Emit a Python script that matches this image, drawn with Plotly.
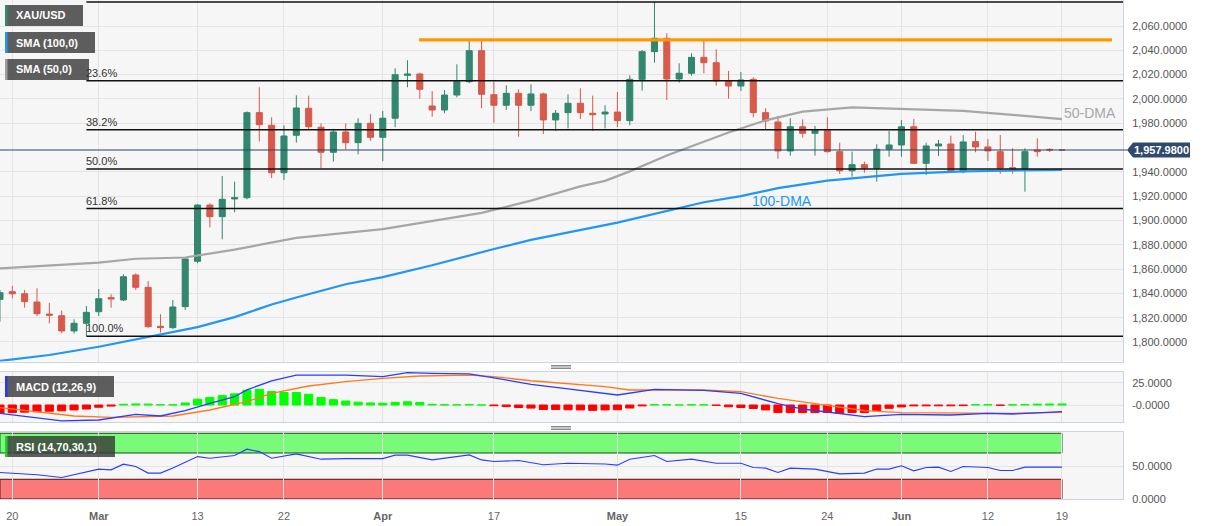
import plotly.graph_objects as go

# ---------------- data ----------------
dates = ["2023-02-17", "2023-02-20", "2023-02-21", "2023-02-22", "2023-02-23", "2023-02-24", "2023-02-27", "2023-02-28",
         "2023-03-01", "2023-03-02", "2023-03-03", "2023-03-06", "2023-03-07", "2023-03-08", "2023-03-09", "2023-03-10",
         "2023-03-13", "2023-03-14", "2023-03-15", "2023-03-16", "2023-03-17", "2023-03-20", "2023-03-21", "2023-03-22",
         "2023-03-23", "2023-03-24", "2023-03-27", "2023-03-28", "2023-03-29", "2023-03-30", "2023-03-31",
         "2023-04-03", "2023-04-04", "2023-04-05", "2023-04-06", "2023-04-10", "2023-04-11", "2023-04-12", "2023-04-13",
         "2023-04-14", "2023-04-17", "2023-04-18", "2023-04-19", "2023-04-20", "2023-04-21", "2023-04-24", "2023-04-25",
         "2023-04-26", "2023-04-27", "2023-04-28",
         "2023-05-01", "2023-05-02", "2023-05-03", "2023-05-04", "2023-05-05", "2023-05-08", "2023-05-09", "2023-05-10",
         "2023-05-11", "2023-05-12", "2023-05-15", "2023-05-16", "2023-05-17", "2023-05-18", "2023-05-19", "2023-05-22",
         "2023-05-23", "2023-05-24", "2023-05-25", "2023-05-26", "2023-05-29", "2023-05-30", "2023-05-31",
         "2023-06-01", "2023-06-02", "2023-06-05", "2023-06-06", "2023-06-07", "2023-06-08", "2023-06-09", "2023-06-12",
         "2023-06-13", "2023-06-14", "2023-06-15", "2023-06-16", "2023-06-18", "2023-06-19"]

opens = [1835.1, 1841.4, 1839.7, 1832.9, 1823.0, 1821.6, 1809.1, 1815.4, 1824.9, 1836.5,
         1834.6, 1855.1, 1845.0, 1812.9, 1811.8, 1829.1, 1866.4, 1912.7, 1903.1, 1917.7,
         1918.7, 1988.7, 1978.3, 1939.3, 1970.1, 1992.3, 1976.7, 1956.1, 1972.8, 1964.0,
         1979.9, 1968.4, 1984.1, 2019.4, 2020.5, 1994.2, 1990.9, 2003.2, 2014.2, 2039.7,
         2003.5, 1994.8, 2004.6, 1994.8, 2004.1, 1982.7, 1988.7, 1996.4, 1988.2, 1987.6,
         1989.2, 1982.1, 2016.1, 2038.9, 2049.9, 2016.4, 2021.1, 2034.2, 2029.8, 2014.8,
         2010.6, 2016.1, 1988.7, 1981.0, 1957.2, 1977.1, 1971.7, 1973.9, 1956.6, 1940.9,
         1945.9, 1942.9, 1958.6, 1962.1, 1977.1, 1947.0, 1961.3, 1962.9, 1940.1, 1964.8,
         1960.5, 1956.6, 1943.4, 1942.6, 1958.0, 1958.5, 1957.98]
highs = [1842.8, 1846.1, 1842.8, 1844.2, 1832.3, 1825.8, 1818.7, 1829.6, 1843.6, 1839.3,
         1855.7, 1856.5, 1850.2, 1822.8, 1834.6, 1868.9, 1913.3, 1914.1, 1936.6, 1931.9,
         1989.7, 2009.6, 1984.9, 1978.3, 2003.0, 2002.7, 1979.9, 1975.3, 1979.9, 1984.1,
         1987.4, 1990.1, 2025.2, 2031.8, 2021.6, 2006.5, 2007.3, 2028.5, 2047.7, 2047.7,
         2014.2, 2011.2, 2007.9, 2012.0, 2005.1, 1990.9, 2003.8, 2008.7, 2002.7, 1994.8,
         2005.7, 2019.4, 2040.3, 2079.8, 2054.0, 2029.3, 2037.5, 2047.7, 2040.8, 2023.0,
         2022.2, 2017.8, 1992.3, 1986.0, 1984.1, 1983.2, 1977.7, 1984.9, 1964.0, 1956.6,
         1948.4, 1962.7, 1973.6, 1982.7, 1983.5, 1964.0, 1966.2, 1969.7, 1970.3, 1973.0,
         1967.0, 1970.3, 1959.4, 1959.4, 1967.6, 1959.3, 1957.98]
lows = [1816.7, 1836.0, 1828.2, 1821.4, 1815.4, 1807.2, 1807.0, 1804.8, 1821.4, 1828.2,
        1833.7, 1842.8, 1811.8, 1807.7, 1810.7, 1826.3, 1864.8, 1894.4, 1884.5, 1906.7,
        1917.4, 1965.1, 1934.9, 1933.3, 1964.0, 1974.4, 1942.9, 1948.4, 1958.8, 1954.4,
        1965.6, 1948.7, 1976.7, 2009.6, 2000.2, 1985.4, 1988.2, 2001.3, 2012.9, 1992.3,
        1980.4, 1990.9, 1968.9, 1990.1, 1971.1, 1973.6, 1975.8, 1983.5, 1973.6, 1975.8,
        1976.7, 1978.3, 2006.8, 2029.8, 1999.1, 2013.4, 2019.1, 2021.1, 2010.9, 2000.2,
        2006.5, 1984.9, 1975.0, 1950.8, 1953.3, 1968.1, 1953.3, 1955.9, 1938.2, 1936.0,
        1939.3, 1931.9, 1952.5, 1952.5, 1946.5, 1937.4, 1953.0, 1939.5, 1938.8, 1956.1,
        1948.9, 1938.5, 1938.5, 1923.7, 1952.5, 1956.3, 1957.98]
closes = [1840.6, 1839.7, 1833.2, 1823.3, 1822.0, 1809.1, 1815.4, 1824.4, 1835.6, 1835.4,
          1853.7, 1845.0, 1812.6, 1811.8, 1828.8, 1868.3, 1912.7, 1903.1, 1917.4, 1918.7,
          1988.7, 1978.8, 1939.3, 1969.5, 1992.5, 1977.1, 1956.1, 1972.8, 1964.0, 1979.9,
          1968.4, 1984.1, 2019.9, 2020.5, 2007.9, 1990.9, 2003.2, 2014.2, 2039.7, 2003.8,
          1994.8, 2004.6, 1994.8, 2004.1, 1982.7, 1988.2, 1996.4, 1988.7, 1987.0, 1989.2,
          1982.1, 2016.1, 2038.9, 2049.9, 2016.4, 2021.1, 2034.2, 2029.8, 2014.8, 2010.6,
          2015.6, 1988.7, 1981.8, 1957.2, 1977.1, 1971.7, 1973.9, 1956.6, 1940.9, 1945.9,
          1942.9, 1958.6, 1962.1, 1977.1, 1947.0, 1961.3, 1962.9, 1940.1, 1964.6, 1960.5,
          1957.2, 1942.9, 1942.6, 1956.6, 1956.6, 1957.98, 1957.98]

sma50_dates = ["2023-02-17", "2023-02-23", "2023-03-01", "2023-03-06", "2023-03-10", "2023-03-16", "2023-03-23",
               "2023-04-03", "2023-04-10", "2023-04-14", "2023-04-20", "2023-04-26", "2023-04-28", "2023-05-02",
               "2023-05-05", "2023-05-10", "2023-05-12", "2023-05-17", "2023-05-22", "2023-05-26", "2023-06-01",
               "2023-06-08", "2023-06-14", "2023-06-19"]
sma50_values = [1860.6, 1863.2, 1865.3, 1868.5, 1869.5, 1876.0, 1885.7, 1892.8, 1899.2, 1906.2, 1916.3, 1928.0,
                1932.6, 1940.4, 1953.5, 1964.8, 1972.4, 1982.4, 1989.5, 1993.1, 1991.7, 1990.1, 1986.9, 1983.3]

sma100_dates = ["2023-02-17", "2023-02-23", "2023-03-01", "2023-03-07", "2023-03-13", "2023-03-16", "2023-03-21",
                "2023-03-23", "2023-03-29", "2023-04-03", "2023-04-10", "2023-04-17", "2023-04-20", "2023-05-01",
                "2023-05-10", "2023-05-15", "2023-05-18", "2023-05-24", "2023-06-01", "2023-06-08", "2023-06-19"]
sma100_values = [1784.4, 1789.3, 1796.1, 1804.2, 1812.2, 1820.5, 1830.8, 1836.6, 1847.5, 1853.4, 1863.1, 1876.5,
                 1884.0, 1898.2, 1915.0, 1920.0, 1926.6, 1932.8, 1938.3, 1940.4, 1941.7]

macd_dates = ["2023-02-17", "2023-02-22", "2023-02-24", "2023-03-01", "2023-03-06", "2023-03-08", "2023-03-10",
              "2023-03-14", "2023-03-16", "2023-03-17", "2023-03-20", "2023-03-21", "2023-03-23", "2023-03-29",
              "2023-04-03", "2023-04-05", "2023-04-10", "2023-04-13", "2023-04-17", "2023-04-20", "2023-04-25",
              "2023-04-28", "2023-05-01", "2023-05-04", "2023-05-10", "2023-05-15", "2023-05-18", "2023-05-22",
              "2023-05-24", "2023-05-29", "2023-06-01", "2023-06-07", "2023-06-12", "2023-06-14", "2023-06-19"]
macd_values = [-9.3, -14.5, -17.9, -16.8, -10.4, -12.3, -6.4, 1.9, 9.3, 17.0, 22.0, 27.0, 33.6, 33.6, 31.7, 36.2,
               35.5, 34.8, 30.5, 23.0, 18.0, 13.0, 11.2, 17.6, 16.5, 13.0, 1.5, -4.5, -8.0, -13.1, -10.4, -11.2,
               -9.3, -10.1, -7.5]

signal_dates = ["2023-02-17", "2023-02-22", "2023-02-27", "2023-03-02", "2023-03-09", "2023-03-14", "2023-03-17",
                "2023-03-21", "2023-03-24", "2023-03-29", "2023-04-03", "2023-04-06", "2023-04-13", "2023-04-17",
                "2023-04-20", "2023-04-28", "2023-05-02", "2023-05-10", "2023-05-15", "2023-05-18", "2023-05-24",
                "2023-05-29", "2023-06-01", "2023-06-08", "2023-06-14", "2023-06-19"]
signal_values = [-3.0, -8.0, -12.3, -13.8, -12.3, -5.6, 3.7, 13.1, 21.3, 26.1, 29.9, 32.5, 33.6, 31.7, 27.2, 20.5,
                 16.8, 16.8, 14.9, 7.5, 0.0, -6.4, -8.6, -9.3, -9.3, -8.2]

hist_values = [-9.0, -8.5, -8.0, -7.5, -7.0, -6.5, -5.5, -4.5, -2.5, -1.2,
               0.8, 1.2, 1.0, 0.4, 0.3, 2.3, 6.5, 8.5, 10.5, 12.5,
               16.5, 17.5, 15.0, 14.0, 14.0, 12.0, 8.5, 6.0, 4.5, 3.2,
               2.3, 2.0, 3.0, 3.6, 2.8, 0.8, 0.3, 0.2, 0.6, 0.1,
               -0.8, -1.8, -2.8, -3.5, -5.0, -5.0, -5.3, -5.5, -6.0, -5.5,
               -5.3, -3.4, -1.0, 0.6, 0.4, 0.1, 0.4, 0.3, -0.4, -2.0,
               -2.8, -3.9, -5.5, -8.5, -8.5, -8.5, -8.5, -8.5, -9.3, -8.5,
               -8.5, -6.3, -3.7, -2.2, -1.0, -0.9, -0.9, -0.9, -0.7, 0.4,
               0.4, -0.4, 0.3, 0.6, 1.0, 1.1, 1.2]

rsi_dates = ["2023-02-17", "2023-02-22", "2023-02-24", "2023-03-01", "2023-03-02", "2023-03-03", "2023-03-06",
             "2023-03-07", "2023-03-08", "2023-03-09", "2023-03-13", "2023-03-14", "2023-03-16", "2023-03-17",
             "2023-03-20", "2023-03-21", "2023-03-23", "2023-03-27", "2023-03-29", "2023-03-31", "2023-04-03",
             "2023-04-04", "2023-04-05", "2023-04-10", "2023-04-13", "2023-04-14", "2023-04-17", "2023-04-19",
             "2023-04-21", "2023-04-25", "2023-04-28", "2023-05-01", "2023-05-02", "2023-05-04", "2023-05-05",
             "2023-05-09", "2023-05-11", "2023-05-15", "2023-05-16", "2023-05-17", "2023-05-18", "2023-05-19",
             "2023-05-23", "2023-05-25", "2023-05-29", "2023-05-30", "2023-05-31", "2023-06-01", "2023-06-02",
             "2023-06-05", "2023-06-06", "2023-06-07", "2023-06-08", "2023-06-12", "2023-06-13", "2023-06-14",
             "2023-06-15", "2023-06-19"]
rsi_values = [40.3, 36.8, 32.7, 45.5, 44.4, 53.0, 49.4, 39.4, 39.4, 47.0, 64.5, 62.1, 66.1, 75.8, 72.1, 62.1,
              68.6, 60.6, 61.5, 62.1, 61.5, 66.7, 66.7, 59.5, 67.1, 59.5, 57.0, 58.5, 52.0, 54.5, 53.2, 51.5,
              60.6, 66.1, 57.0, 60.6, 54.5, 54.5, 47.9, 47.0, 40.3, 47.0, 45.5, 38.3, 39.4, 45.5, 45.5, 50.5,
              42.9, 47.9, 48.5, 41.8, 49.4, 47.9, 43.3, 43.3, 48.5, 48.5]

fib_high = 2079.76
fib_low = 1804.76
fib_ratios = [0.0, 0.236, 0.382, 0.5, 0.618, 1.0]
fib_labels = ["", "23.6%", "38.2%", "50.0%", "61.8%", "100.0%"]
fib_start_date = "2023-02-28"

resistance_level = 2048.5
resistance_start_date = "2023-04-06"
last_price = 1957.98

tick_dates = ["2023-02-20", "2023-03-01", "2023-03-13", "2023-03-22", "2023-04-03", "2023-04-17",
              "2023-05-01", "2023-05-15", "2023-05-24", "2023-06-01", "2023-06-12", "2023-06-19"]
tick_labels = ["20", "Mar", "13", "22", "Apr", "17", "May", "15", "24", "Jun", "12", "19"]
price_ticks = [v for v in range(1800, 2061, 20) if v != 1960]

badges = [("XAU/USD", "#2e8b6e"), ("SMA (100,0)", "#2196f3"), ("SMA (50,0)", "#9e9e9e"),
          ("MACD (12,26,9)", "#2538ff"), ("RSI (14,70,30,1)", "#22cc33")]

# ---------------- layout helpers ----------------
W, H = 1207, 526
ML, MR, MT, MB = 0, 84, 0, 27
PW, PH = W - ML - MR, H - MT - MB


def pxp(x):
    return (x - ML) / PW


def pyp(y):
    return 1 - (y - MT) / PH


idx = {d: k for k, d in enumerate(dates)}
xi = list(range(len(dates)))
X_RANGE = [0.004, 90.94]
FONT = "Liberation Sans, Arial, sans-serif"

fig = go.Figure()

# main panel
fig.add_trace(go.Scatter(x=[idx[d] for d in sma50_dates], y=sma50_values, mode="lines",
                         line=dict(color="#a6a6a6", width=2.2), xaxis="x", yaxis="y", hoverinfo="skip"))
fig.add_trace(go.Scatter(x=[idx[d] for d in sma100_dates], y=sma100_values, mode="lines",
                         line=dict(color="#2196f3", width=2.2), xaxis="x", yaxis="y", hoverinfo="skip"))
fig.add_trace(go.Candlestick(x=xi, open=opens, high=highs, low=lows, close=closes,
                             increasing=dict(line=dict(color="#2f876d", width=1), fillcolor="#33876f"),
                             decreasing=dict(line=dict(color="#d5584a", width=1), fillcolor="#d85a4a"),
                             whiskerwidth=0, xaxis="x", yaxis="y", hoverinfo="skip"))

# MACD panel
hist_colors = ["#00ff00" if v >= 0 else "#ff0000" for v in hist_values]
fig.add_trace(go.Bar(x=xi, y=hist_values, marker=dict(color=hist_colors, line=dict(width=1, color=hist_colors)),
                     xaxis="x2", yaxis="y2", hoverinfo="skip"))
fig.add_trace(go.Scatter(x=[idx[d] for d in signal_dates], y=signal_values, mode="lines",
                         line=dict(color="#ff7a1f", width=1.3), xaxis="x2", yaxis="y2", hoverinfo="skip"))
fig.add_trace(go.Scatter(x=[idx[d] for d in macd_dates], y=macd_values, mode="lines",
                         line=dict(color="#2b3cff", width=1.3), xaxis="x2", yaxis="y2", hoverinfo="skip"))

# RSI panel
fig.add_trace(go.Scatter(x=[idx[d] for d in rsi_dates], y=rsi_values, mode="lines",
                         line=dict(color="#2b3cff", width=1.1), xaxis="x3", yaxis="y3", hoverinfo="skip"))

tickvals = [idx[d] for d in tick_dates]
ticktext = [f"<b>{t}</b>" if t.isalpha() else t for t in tick_labels]

grid = "#e4e4e4"
border = "#cdd4e0"
xcommon = dict(range=X_RANGE, tickmode="array", tickvals=tickvals, showgrid=True, gridcolor=grid, gridwidth=1,
               zeroline=False, showline=True, linecolor=border, linewidth=1, mirror=True, fixedrange=True)
ycommon = dict(side="right", showgrid=True, gridcolor=grid, gridwidth=1, zeroline=False, showline=True,
               linecolor=border, linewidth=1, mirror=True, fixedrange=True, tickmode="array",
               ticks="outside", ticklen=6, tickcolor="rgba(0,0,0,0)", tickfont=dict(size=11, color="#555555"))

fig.update_layout(
    width=W, height=H, margin=dict(l=ML, r=MR, t=MT, b=MB),
    paper_bgcolor="white", plot_bgcolor="#f6f6f6", showlegend=False, hovermode=False,
    font=dict(family=FONT, size=11, color="#555555"), bargap=0.34,
    xaxis=dict(domain=[0, 1], anchor="y", showticklabels=False, rangeslider=dict(visible=False), **xcommon),
    xaxis2=dict(domain=[0, 1], anchor="y2", showticklabels=False, **xcommon),
    xaxis3=dict(domain=[0, 1], anchor="y3", ticktext=ticktext, ticks="outside", ticklen=7,
                tickcolor="rgba(0,0,0,0)", tickfont=dict(size=11, color="#666666"), **xcommon),
    yaxis=dict(domain=[pyp(361.5), 1], anchor="x", range=[1783.95, 2081.39], tickvals=price_ticks,
               ticktext=[f"{v:,.4f}" for v in price_ticks], **ycommon),
    yaxis2=dict(domain=[pyp(422.3), pyp(371.7)], anchor="x2", range=[-19.39, 37.33], tickvals=[25, 0],
                ticktext=["25.0000", "-0.0000"], **ycommon),
    yaxis3=dict(domain=[0, pyp(431.7)], anchor="x3", range=[0, 102.4], tickvals=[50, 0],
                ticktext=["50.0000", "0.0000"], **ycommon),
)

shapes = []
annotations = []

# fibonacci levels
fx0 = idx[fib_start_date]
for r, lab in zip(fib_ratios, fib_labels):
    lvl = fib_high - r * (fib_high - fib_low)
    shapes.append(dict(type="line", xref="x", yref="y", x0=fx0, x1=X_RANGE[1], y0=lvl, y1=lvl,
                       line=dict(color="#111111", width=1.5), layer="above"))
    if lab:
        annotations.append(dict(x=fx0, y=lvl, xref="x", yref="y", text=lab, showarrow=False, xanchor="left",
                                yanchor="bottom", xshift=-2, yshift=0, font=dict(size=11, color="#333333")))

# resistance line
shapes.append(dict(type="line", xref="x", yref="y", x0=idx[resistance_start_date] - 0.07, x1=len(dates) + 3.05,
                   y0=resistance_level, y1=resistance_level, line=dict(color="#ff9800", width=3.3), layer="above"))

# last price line and label
shapes.append(dict(type="line", xref="paper", yref="y", x0=0, x1=pxp(1127), y0=last_price, y1=last_price,
                   line=dict(color="#2c4466", width=1), layer="above"))
hh = 6.2
path = (f"M {pxp(1127)},{last_price} L {pxp(1133)},{last_price + hh} L {pxp(1190)},{last_price + hh} "
        f"L {pxp(1190)},{last_price - hh} L {pxp(1133)},{last_price - hh} Z")
shapes.append(dict(type="path", xref="paper", yref="y", path=path, fillcolor="#2f4a6d", line=dict(width=0),
                   layer="above"))
annotations.append(dict(x=pxp(1161.5), y=last_price, xref="paper", yref="y", text=f"<b>{last_price:,.4f}</b>",
                        showarrow=False, xanchor="center", yanchor="middle", font=dict(size=11, color="white")))

# MA labels
annotations.append(dict(x=idx["2023-06-19"], y=1988.4, xref="x", yref="y", text="50-DMA", showarrow=False,
                        xanchor="left", yanchor="middle", font=dict(size=14, color="#a8a8a8")))
annotations.append(dict(x=63.32, y=1916.0, xref="x", yref="y", text="100-DMA", showarrow=False,
                        xanchor="center", yanchor="middle", font=dict(size=14, color="#2196f3")))

# RSI bands
x_end = idx["2023-06-19"]
shapes.append(dict(type="rect", xref="x3", yref="y3", x0=0, x1=x_end, y0=70, y1=100, fillcolor="#79fb79",
                   line=dict(color="#1d4d1d", width=1), layer="below"))
shapes.append(dict(type="rect", xref="x3", yref="y3", x0=0, x1=x_end, y0=0, y1=30, fillcolor="#fb7979",
                   line=dict(color="#4d1010", width=1), layer="below"))

# badges
badge_boxes = [(5, 5, 83, 26), (5, 32, 95, 53), (5, 59, 89, 80), (5, 376, 114, 397), (5, 436, 115, 457)]
for (txt, col), (bx0, by0, bx1, by1) in zip(badges, badge_boxes):
    shapes.append(dict(type="rect", xref="paper", yref="paper", x0=pxp(bx0), x1=pxp(bx1), y0=pyp(by1),
                       y1=pyp(by0), fillcolor="rgba(55,55,55,0.8)", line=dict(width=0), layer="above"))
    shapes.append(dict(type="rect", xref="paper", yref="paper", x0=pxp(bx0), x1=pxp(bx0 + 2.5), y0=pyp(by1),
                       y1=pyp(by0), fillcolor=col, line=dict(width=0), layer="above"))
    annotations.append(dict(x=pxp(14), y=pyp((by0 + by1) / 2), xref="paper", yref="paper", text=f"<b>{txt}</b>",
                            showarrow=False, xanchor="left", yanchor="middle", font=dict(size=11, color="white")))

# panel resize handles
for yb in (365.5, 426.5):
    for k in range(3):
        yy = pyp(yb + 1.5 * k)
        shapes.append(dict(type="line", xref="paper", yref="paper", x0=pxp(551), x1=pxp(571), y0=yy, y1=yy,
                           line=dict(color="#8a8a8a", width=1)))

fig.update_layout(shapes=shapes, annotations=annotations)
fig.write_html("out.html", config={"displayModeBar": False, "staticPlot": True},
               post_script="document.body.style.margin='0px';document.body.style.overflow='hidden';")
